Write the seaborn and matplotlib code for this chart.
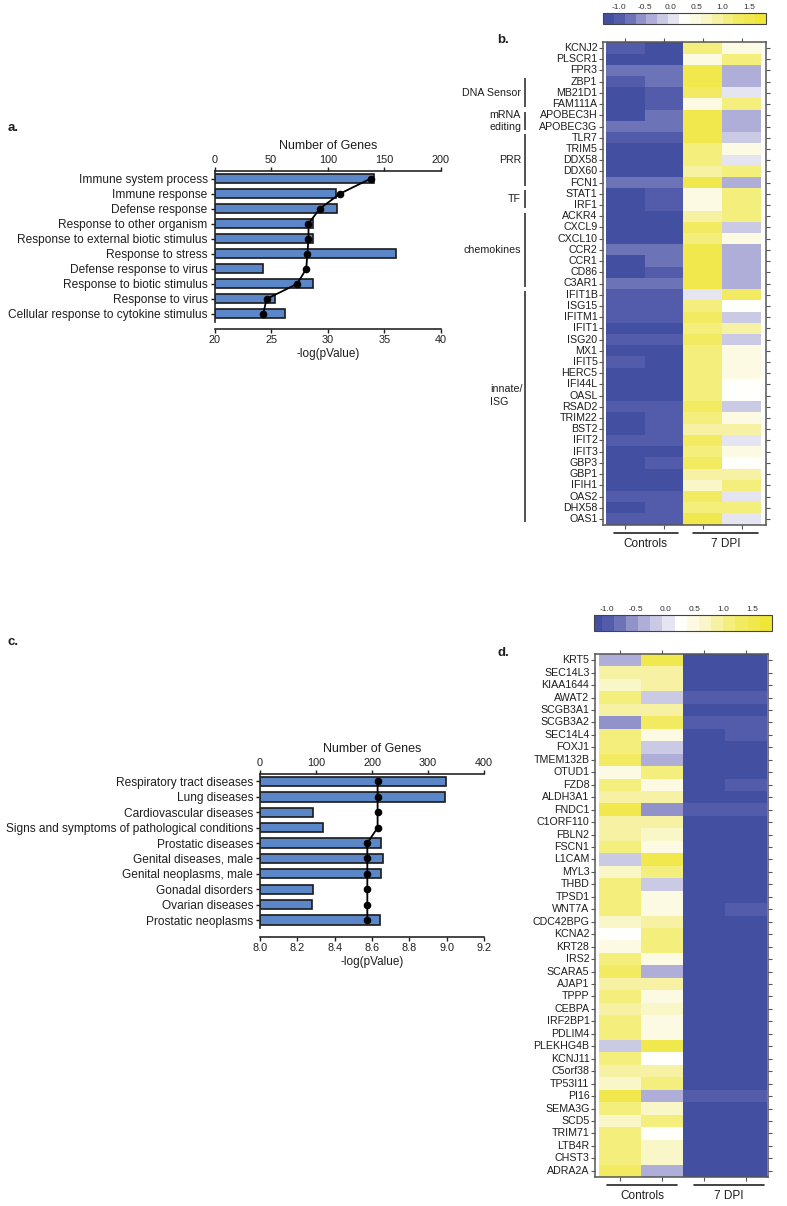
import numpy as np
import pandas as pd
import matplotlib
matplotlib.use("Agg")
import matplotlib.pyplot as plt
import matplotlib.transforms as mtransforms
from matplotlib.colors import LinearSegmentedColormap, ListedColormap
from matplotlib.ticker import FormatStrFormatter
import seaborn as sns

# ---- panel a: GO terms ----
go_terms = ["Immune system process", "Immune response", "Defense response",
            "Response to other organism", "Response to external biotic stimulus",
            "Response to stress", "Defense response to virus",
            "Response to biotic stimulus", "Response to virus",
            "Cellular response to cytokine stimulus"]
go_genes = [141, 107, 108, 87, 87, 160, 43, 87, 53, 62]
go_logp = [33.8, 31.1, 29.3, 28.3, 28.3, 28.2, 28.1, 27.3, 24.6, 24.3]

# ---- panel c: disease terms ----
dis_terms = ["Respiratory tract diseases", "Lung diseases", "Cardiovascular diseases",
             "Signs and symptoms of pathological conditions", "Prostatic diseases",
             "Genital diseases, male", "Genital neoplasms, male", "Gonadal disorders",
             "Ovarian diseases", "Prostatic neoplasms"]
dis_genes = [332, 330, 94, 112, 216, 219, 216, 94, 92, 214]
dis_logp = [8.63, 8.63, 8.63, 8.63, 8.575, 8.575, 8.575, 8.575, 8.575, 8.575]

# ---- panel b: up-regulated genes ----
samples = ["Controls 1", "Controls 2", "7 DPI 1", "7 DPI 2"]
b_genes = ["KCNJ2", "PLSCR1", "FPR3", "ZBP1", "MB21D1", "FAM111A", "APOBEC3H",
           "APOBEC3G", "TLR7", "TRIM5", "DDX58", "DDX60", "FCN1", "STAT1", "IRF1",
           "ACKR4", "CXCL9", "CXCL10", "CCR2", "CCR1", "CD86", "C3AR1", "IFIT1B",
           "ISG15", "IFITM1", "IFIT1", "ISG20", "MX1", "IFIT5", "HERC5", "IFI44L",
           "OASL", "RSAD2", "TRIM22", "BST2", "IFIT2", "IFIT3", "GBP3", "GBP1",
           "IFIH1", "OAS2", "DHX58", "OAS1"]
b_ctrl_1 = [-1.0, -1.2, -0.8, -1.0, -1.1, -1.2, -1.1, -0.8, -1.0, -1.2, -1.1, -1.2,
            -0.8, -1.2, -1.25, -1.2, -1.1, -1.25, -0.8, -1.1, -1.1, -0.8, -1.0, -1.0,
            -1.0, -1.2, -1.0, -1.2, -0.9, -1.2, -1.2, -1.2, -1.0, -1.2, -1.2, -1.0,
            -1.2, -1.2, -1.2, -1.2, -1.0, -1.3, -1.0]
b_ctrl_2 = [-1.1, -1.2, -0.8, -0.8, -1.0, -1.0, -0.8, -0.8, -1.0, -1.2, -1.1, -1.2,
            -0.8, -1.0, -1.0, -1.2, -1.1, -1.25, -0.8, -0.8, -1.0, -0.8, -1.0, -1.0,
            -1.0, -1.2, -1.0, -1.2, -1.2, -1.2, -1.2, -1.2, -1.0, -1.0, -1.0, -1.0,
            -1.2, -1.0, -1.2, -1.2, -1.0, -1.0, -1.0]
b_dpi_1 = [1.0, 0.4, 1.5, 1.5, 1.3, 0.5, 1.5, 1.5, 1.5, 1.1, 1.2, 0.8, 1.5, 0.4,
           0.4, 0.8, 1.4, 1.0, 1.5, 1.5, 1.5, 1.5, 0.05, 1.2, 1.4, 1.0, 1.4, 1.0,
           1.0, 1.1, 1.2, 1.1, 1.3, 1.2, 0.9, 1.4, 1.1, 1.3, 0.9, 0.6, 1.3, 1.0, 1.5]
b_dpi_2 = [0.5, 1.1, -0.4, -0.4, 0.0, 1.1, -0.4, -0.4, -0.15, 0.4, 0.05, 1.0, -0.4,
           1.0, 1.0, 1.0, -0.15, 0.4, -0.4, -0.4, -0.4, -0.4, 1.3, 0.35, -0.15, 0.8,
           -0.15, 0.4, 0.4, 0.4, 0.3, 0.3, -0.2, 0.5, 0.8, 0.1, 0.4, 0.3, 0.9, 1.1,
           0.1, 1.0, 0.1]
b_group_names = ["DNA Sensor", "mRNA\nediting", "PRR", "TF", "chemokines", "innate/\nISG"]
b_group_first = ["ZBP1", "APOBEC3H", "TLR7", "STAT1", "ACKR4", "IFIT1B"]
b_group_last = ["FAM111A", "APOBEC3G", "FCN1", "IRF1", "C3AR1", "OAS1"]

# ---- panel d: down-regulated genes ----
d_genes = ["KRT5", "SEC14L3", "KIAA1644", "AWAT2", "SCGB3A1", "SCGB3A2", "SEC14L4",
           "FOXJ1", "TMEM132B", "OTUD1", "FZD8", "ALDH3A1", "FNDC1", "C1ORF110",
           "FBLN2", "FSCN1", "L1CAM", "MYL3", "THBD", "TPSD1", "WNT7A", "CDC42BPG",
           "KCNA2", "KRT28", "IRS2", "SCARA5", "AJAP1", "TPPP", "CEBPA", "IRF2BP1",
           "PDLIM4", "PLEKHG4B", "KCNJ11", "C5orf38", "TP53I11", "PI16", "SEMA3G",
           "SCD5", "TRIM71", "LTB4R", "CHST3", "ADRA2A"]
d_ctrl_1 = [-0.3, 0.9, 0.6, 1.2, 0.9, -0.6, 1.2, 1.2, 1.4, 0.4, 1.1, 0.9, 1.5, 0.9,
            0.9, 1.1, -0.05, 0.6, 1.2, 1.1, 1.1, 0.6, 0.2, 0.4, 1.1, 1.4, 0.9, 1.0,
            0.9, 1.0, 1.0, -0.05, 1.1, 0.9, 0.7, 1.5, 1.0, 0.6, 1.1, 1.0, 1.0, 1.4]
d_ctrl_2 = [1.5, 0.9, 0.9, -0.05, 0.9, 1.4, 0.4, -0.05, -0.35, 1.1, 0.4, 0.9, -0.6,
            0.9, 0.7, 0.4, 1.5, 1.1, -0.05, 0.4, 0.4, 0.9, 1.2, 1.2, 0.4, -0.35, 0.9,
            0.4, 0.6, 0.4, 0.4, 1.5, 0.2, 0.9, 1.0, -0.35, 0.7, 1.1, 0.2, 0.6, 0.6,
            -0.35]
d_dpi_1 = [-1.1, -1.2, -1.2, -1.0, -1.2, -1.0, -1.2, -1.1, -1.1, -1.2, -1.2, -1.2,
           -1.0, -1.2, -1.2, -1.2, -1.1, -1.2, -1.1, -1.2, -1.2, -1.2, -1.1, -1.25,
           -1.1, -1.1, -1.2, -1.2, -1.2, -1.2, -1.1, -1.1, -1.2, -1.2, -1.2, -1.0,
           -1.2, -1.3, -1.2, -1.1, -1.3, -1.1]
d_dpi_2 = [-1.1, -1.2, -1.2, -1.0, -1.2, -1.0, -1.0, -1.1, -1.1, -1.2, -1.0, -1.2,
           -0.9, -1.2, -1.2, -1.2, -1.1, -1.2, -1.1, -1.2, -1.0, -1.2, -1.1, -1.1,
           -1.25, -1.1, -1.2, -1.1, -1.1, -1.2, -1.2, -1.1, -1.1, -1.2, -1.2, -1.0,
           -1.2, -1.1, -1.1, -1.25, -1.1, -1.1]

cb_ticks = [-1.0, -0.5, 0.0, 0.5, 1.0, 1.5]

W, H = 787, 1206
BAR_BLUE = "#5b87c8"
TXT = "#1e1e1e"
VMIN, VMAX, NBINS = -1.3, 1.83, 15

sns.set_theme(context="paper", style="ticks")
plt.rcParams["font.family"] = ["Liberation Sans", "DejaVu Sans"]
plt.rcParams["axes.unicode_minus"] = False
plt.rcParams["text.color"] = TXT
plt.rcParams["axes.labelcolor"] = TXT
plt.rcParams["xtick.color"] = TXT
plt.rcParams["ytick.color"] = TXT

base = LinearSegmentedColormap.from_list("bwy", [
    ((-1.3 - VMIN) / (VMAX - VMIN), "#3c4a9e"),
    ((-0.9 - VMIN) / (VMAX - VMIN), "#5a62ad"),
    ((-0.5 - VMIN) / (VMAX - VMIN), "#9d9dd0"),
    ((0.25 - VMIN) / (VMAX - VMIN), "#ffffff"),
    ((0.7 - VMIN) / (VMAX - VMIN), "#f9f6c6"),
    ((1.2 - VMIN) / (VMAX - VMIN), "#f3ec6c"),
    (1.0, "#eee52e"),
])
HM_CMAP = ListedColormap(base(np.linspace(0.5 / NBINS, 1 - 0.5 / NBINS, NBINS)))


def px_rect(x0, y0, x1, y1):
    return [x0 / W, 1 - y1 / H, (x1 - x0) / W, (y1 - y0) / H]


def enrichment_panel(fig, box, terms, genes, logp, gene_max, gene_step, p_lim, p_step, offset):
    ax = fig.add_axes(px_rect(*box))
    df = pd.DataFrame({"term": terms, "genes": genes, "logp": logp})
    sns.barplot(data=df, x="genes", y="term", orient="h", color=BAR_BLUE, saturation=1,
                width=0.6, edgecolor="#1a1a1a", linewidth=1.2, errorbar=None, ax=ax)
    ax2 = ax.twiny()
    sns.pointplot(data=df, x="logp", y="term", orient="h", color="black", errorbar=None,
                  markersize=4.5, linewidth=1.3, ax=ax2)

    ax.xaxis.tick_top()
    ax.xaxis.set_label_position("top")
    ax.set_xlim(0, gene_max)
    ax.set_xticks(np.arange(0, gene_max + 1, gene_step))
    ax.set_xlabel("Number of Genes", fontsize=9, labelpad=4)
    ax.set_ylabel("")
    ax.spines["right"].set_visible(False)
    ax.spines["bottom"].set_visible(False)
    ax.spines["top"].set_visible(True)
    ax.tick_params(axis="x", top=True, bottom=False, labeltop=True, labelbottom=False,
                   labelsize=7.8, length=3, width=1, pad=1.5)
    ax.tick_params(axis="y", labelsize=8.6, length=3, width=1, pad=2)
    for sp in ("top", "left"):
        ax.spines[sp].set_linewidth(1.2)

    ax2.xaxis.tick_bottom()
    ax2.xaxis.set_label_position("bottom")
    ax2.set_xlim(*p_lim)
    ax2.set_xticks(np.arange(p_lim[0], p_lim[1] + 1e-9, p_step))
    ax2.xaxis.set_major_formatter(FormatStrFormatter("%g" if p_step >= 1 else "%.1f"))
    ax2.set_xlabel("-log(pValue)", fontsize=8.5, labelpad=2)
    ax2.set_ylabel("")
    for sp in ("top", "left", "right"):
        ax2.spines[sp].set_visible(False)
    ax2.spines["bottom"].set_visible(True)
    ax2.spines["bottom"].set_position(("outward", offset))
    ax2.spines["bottom"].set_linewidth(1.2)
    ax2.tick_params(axis="x", labelsize=7.8, length=3, width=1, pad=1.5)
    return ax


def heatmap_panel(fig, box, genes, cols, xlim):
    ax = fig.add_axes(px_rect(*box))
    df = pd.DataFrame(dict(zip(samples, cols)), index=genes)
    sns.heatmap(df, ax=ax, cmap=HM_CMAP, vmin=VMIN, vmax=VMAX, cbar=False,
                xticklabels=False, yticklabels=True)
    ax.set_xlim(*xlim)
    ax.set_xticks(np.arange(len(samples)) + 0.5)
    ax.set_xlabel("")
    ax.set_ylabel("")
    ax.tick_params(axis="x", top=True, bottom=True, labeltop=False, labelbottom=False,
                   length=3, width=0.8, color="#555", direction="out")
    ax.tick_params(axis="y", left=True, right=True, labelleft=True, labelright=False,
                   length=3, width=0.8, color="#555", labelsize=7.7, pad=1,
                   labelrotation=0, direction="out")
    for sp in ax.spines.values():
        sp.set_visible(True)
        sp.set_color("#555")
        sp.set_linewidth(1.1)

    # sample group underlines
    trans = mtransforms.blended_transform_factory(ax.transData, ax.transAxes)
    hpx = box[3] - box[1]
    for (x0, x1), name in [((0.2, 1.85), "Controls"), ((2.25, 3.92), "7 DPI")]:
        ax.plot([x0, x1], [-8 / hpx, -8 / hpx], transform=trans, color="#222",
                lw=1.2, clip_on=False)
        ax.text((x0 + x1) / 2, -19 / hpx, name, transform=trans, ha="center",
                va="center", fontsize=8.5)
    return ax


def colorbar_panel(fig, box, mappable, xlim=None):
    cax = fig.add_axes(px_rect(*box))
    cb = fig.colorbar(mappable, cax=cax, orientation="horizontal", ticks=cb_ticks)
    cax.xaxis.set_ticks_position("top")
    cax.xaxis.set_major_formatter(FormatStrFormatter("%.1f"))
    cax.tick_params(length=0, labelsize=6, pad=1.5, colors="#333")
    cb.outline.set_linewidth(0.8)
    cb.outline.set_edgecolor("#444")
    if xlim is not None:
        cax.set_xlim(*xlim)
    return cax


fig = plt.figure(figsize=(W / 100, H / 100), dpi=100)

# panel a
enrichment_panel(fig, (214.5, 171, 441, 321.5), go_terms, go_genes, go_logp,
                 200, 50, (20, 40), 5, 5.4)
# panel c
enrichment_panel(fig, (260, 773.8, 484, 927.7), dis_terms, dis_genes, dis_logp,
                 400, 100, (8.0, 9.2), 0.2, 6.5)

# panel b heatmap
box_b = (603, 42.4, 766, 524.6)
ax_b = heatmap_panel(fig, box_b, b_genes, [b_ctrl_1, b_ctrl_2, b_dpi_1, b_dpi_2],
                     (-0.077, 4.13))
colorbar_panel(fig, (603, 13, 766, 24), ax_b.collections[0])

# functional group brackets for panel b
wb = box_b[2] - box_b[0]
tb = mtransforms.blended_transform_factory(ax_b.transAxes, ax_b.transData)
x_line = (525 - box_b[0]) / wb
for name, g0, g1 in zip(b_group_names, b_group_first, b_group_last):
    r0, r1 = b_genes.index(g0), b_genes.index(g1) + 1
    ax_b.plot([x_line, x_line], [r0 + 0.2, r1 - 0.2], transform=tb, color="#333",
              lw=1.2, clip_on=False, solid_capstyle="butt")
    if name.startswith("innate"):
        ax_b.text((490 - box_b[0]) / wb, (r0 + r1) / 2 - 1, name, transform=tb,
                  ha="left", va="center", fontsize=7.7, linespacing=1.3)
    else:
        ax_b.text((521 - box_b[0]) / wb, (r0 + r1) / 2, name, transform=tb,
                  ha="right", va="center", fontsize=7.7, linespacing=1.3)

# panel d heatmap
box_d = (595, 654, 768, 1177)
ax_d = heatmap_panel(fig, box_d, d_genes, [d_ctrl_1, d_ctrl_2, d_dpi_1, d_dpi_2],
                     (-0.095, 4.02))
colorbar_panel(fig, (594, 615, 772, 631), ax_d.collections[0], xlim=(-1.22, 1.83))

# panel letters
for x, y, s in [(8, 128, "a."), (497, 40, "b."), (8, 642, "c."), (497, 653, "d.")]:
    fig.text(x / W, 1 - y / H, s, fontsize=9.5, fontweight="bold", ha="left", va="center")

fig.savefig("out.png", dpi=100)
